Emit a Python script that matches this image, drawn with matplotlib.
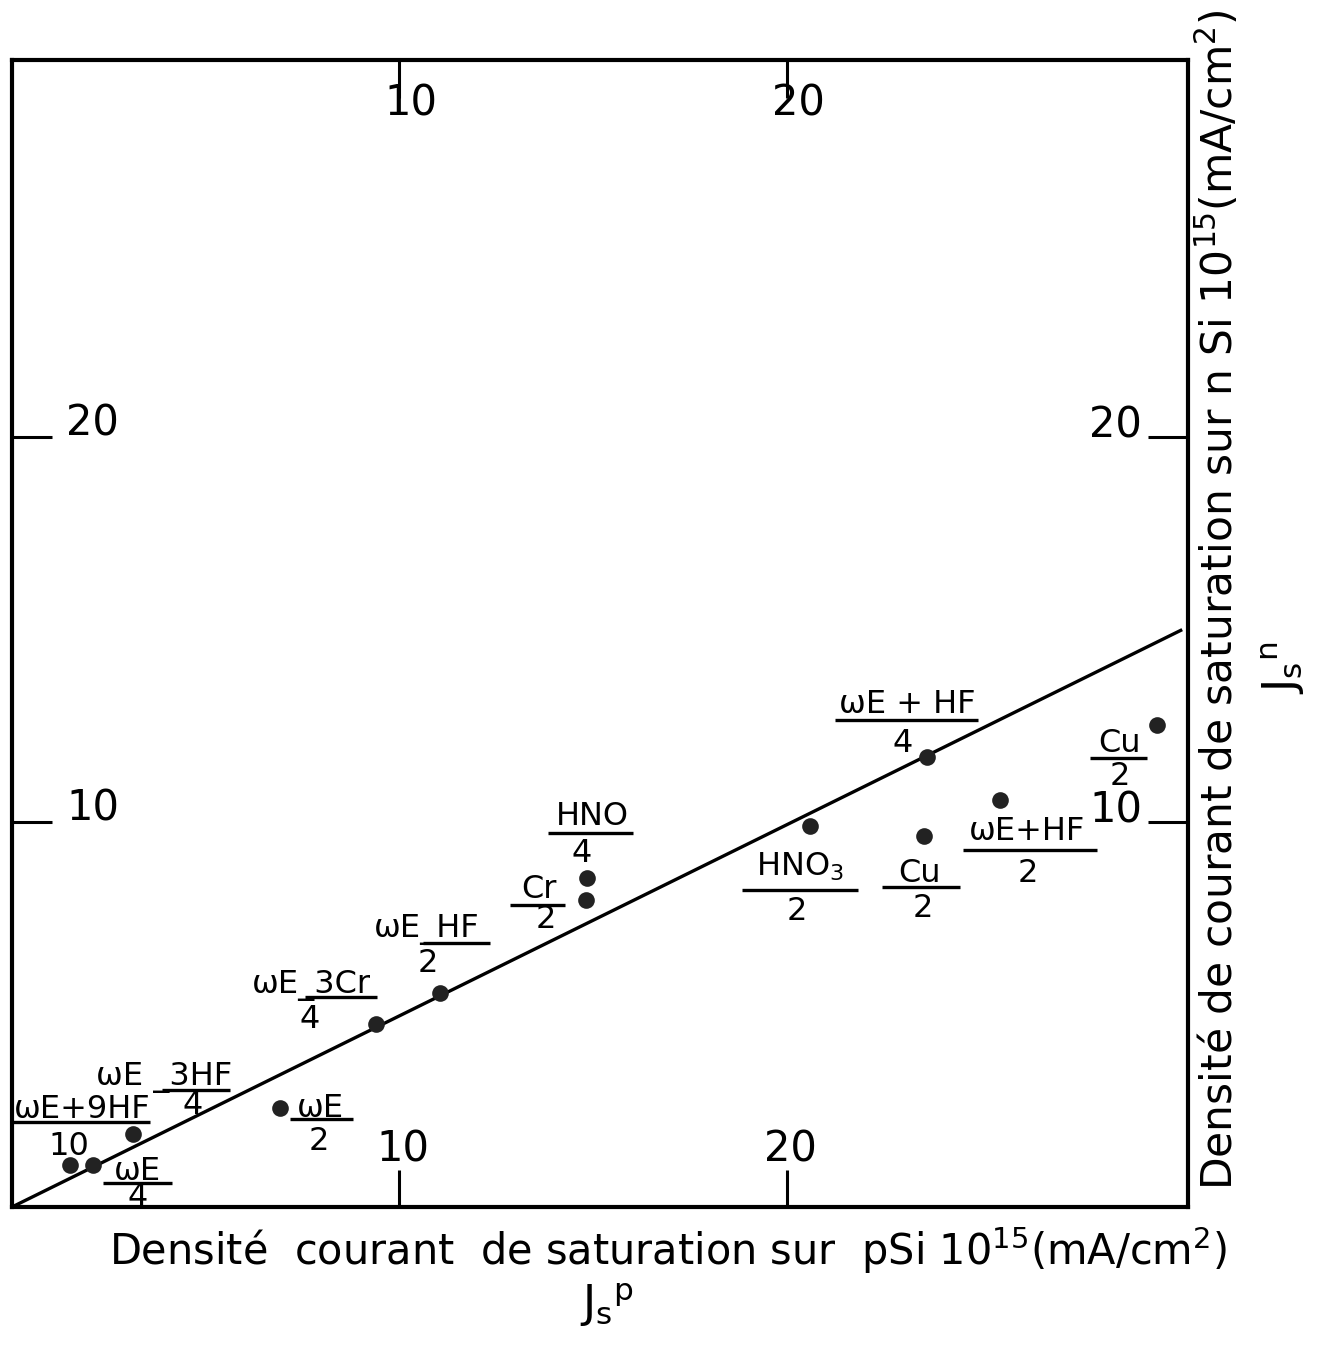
import matplotlib
matplotlib.use("Agg")
import matplotlib.pyplot as plt

plt.rcParams['font.family'] = ['DejaVu Sans']
plt.rcParams['mathtext.default'] = 'regular'

# ---- data ----
jp = [1.50, 2.09, 3.12, 6.92, 9.39, 11.05, 14.81, 14.84, 20.59, 23.54, 23.61, 25.50, 29.55]
jn = [1.09, 1.09, 1.90, 2.57, 4.75, 5.56, 7.97, 8.55, 9.90, 9.64, 11.69, 10.57, 12.52]
fit_x = [0.0, 30.2]
fit_y = [0.0, 15.0]
x_ticks = [10, 20]
y_ticks = [10, 20]

label_num = ["ωE+9HF", "ωE _3HF", "ωE", "ωE", "ωE_3Cr", "ωE_HF", "HNO", "Cr",
             "ωE + HF", "HNO$_3$", "Cu", "ωE+HF", "Cu"]
label_den = ["10", "4", "4", "2", "4", "2", "4", "2", "4", "2", "2", "2", "2"]

# ---- annotation layout (num_x, num_baseline, bar_x0, bar_x1, bar_y, den_x, den_baseline) ----
label_layout = [
    (1.81, 2.31, 0.00, 3.56, 2.21, 1.47, 1.35),
    (3.92, 3.17, 3.87, 5.63, 3.04, 4.65, 2.42),
    (3.25, 0.70, 2.35, 4.13, 0.62, 3.25, 0.02),
    (7.95, 2.34, 7.17, 8.80, 2.29, 7.92, 1.48),
    (7.74, 5.56, 7.56, 9.42, 5.45, 7.69, 4.65),
    (10.71, 7.01, 10.61, 12.34, 6.86, 10.74, 6.10),
    (14.97, 9.92, 13.83, 16.03, 9.71, 14.71, 8.96),
    (13.60, 8.03, 12.85, 14.27, 7.84, 13.78, 7.25),
    (23.10, 12.83, 21.24, 24.93, 12.65, 22.99, 11.82),
    (20.34, 8.62, 18.84, 21.83, 8.23, 20.26, 7.45),
    (23.43, 8.44, 22.45, 24.46, 8.31, 23.51, 7.53),
    (26.20, 9.53, 24.54, 28.00, 9.27, 26.22, 8.44),
    (28.57, 11.82, 27.82, 29.29, 11.66, 28.59, 10.96),
]

W, H = 1324, 1348
fig = plt.figure(figsize=(W / 100, H / 100), dpi=100)
ax = fig.add_axes([12 / W, (H - 1207) / H, 1176 / W, (1207 - 60) / H])
ax.set_xlim(0, 30.35)
ax.set_ylim(0, 29.8)

for s in ax.spines.values():
    s.set_linewidth(3.0)
    s.set_color('black')

# ticks drawn inward on all four sides; labels placed by hand inside the box
ax.set_xticks(x_ticks)
ax.set_yticks(y_ticks)
ax.tick_params(axis='x', which='both', direction='in', length=27, width=2.2,
               top=True, bottom=True, labelbottom=False, labeltop=False)
ax.tick_params(axis='y', which='both', direction='in', length=29, width=2.2,
               left=True, right=True, labelleft=False, labelright=False)

tick_fs = 30
for v in x_ticks:
    ax.annotate(str(v), xy=(v, 0), xycoords=('data', 'axes fraction'),
                xytext=(3, 58), textcoords='offset pixels',
                ha='center', va='center', fontsize=tick_fs)
    ax.annotate(str(v), xy=(v, 1), xycoords=('data', 'axes fraction'),
                xytext=(11, -44), textcoords='offset pixels',
                ha='center', va='center', fontsize=tick_fs)
for v in y_ticks:
    ax.annotate(str(v), xy=(0, v), xycoords=('axes fraction', 'data'),
                xytext=(54, 14), textcoords='offset pixels',
                ha='left', va='center', fontsize=tick_fs)
    ax.annotate(str(v), xy=(1, v), xycoords=('axes fraction', 'data'),
                xytext=(-46, 12), textcoords='offset pixels',
                ha='right', va='center', fontsize=tick_fs)

# fitted line and points
ax.plot(fit_x, fit_y, color='black', lw=2.4, solid_capstyle='butt')
ax.plot(jp, jn, 'o', color='#222222', markersize=12, markeredgewidth=0)

# fraction-style labels
frac_fs = 23
for num, den, (nx, ny, bx0, bx1, by, dx, dy) in zip(label_num, label_den, label_layout):
    ax.text(nx, ny, num, ha='center', va='baseline', fontsize=frac_fs)
    ax.plot([bx0, bx1], [by, by], color='black', lw=2.4, solid_capstyle='butt')
    ax.text(dx, dy, den, ha='center', va='baseline', fontsize=frac_fs)

# axis titles
xl = fig.text(668 / W, 1 - 1250 / H,
              "Densité  courant  de saturation sur  pSi 10$^{15}$(mA/cm$^2$)",
              ha='center', va='center', fontsize=24)
fig.text(607 / W, 1 - 1305 / H, r"J$_s$$^{p}$", ha='center', va='center', fontsize=32)
yl = fig.text(1218 / W, 1 - 600 / H,
              "Densité de courant de saturation sur n Si 10$^{15}$(mA/cm$^2$)",
              ha='center', va='center', rotation=90, fontsize=24)
fig.text(1283 / W, 1 - 668 / H, r"J$_s$$^{n}$", ha='center', va='center',
         rotation=90, fontsize=32)

# fit axis titles to their drawn extents
fig.canvas.draw()
r = fig.canvas.get_renderer()
bb = xl.get_window_extent(r)
xl.set_fontsize(24 * 1120 / bb.width)
bb = yl.get_window_extent(r)
yl.set_fontsize(24 * 1185 / bb.height)

fig.savefig("out.png", dpi=100, facecolor='white')
